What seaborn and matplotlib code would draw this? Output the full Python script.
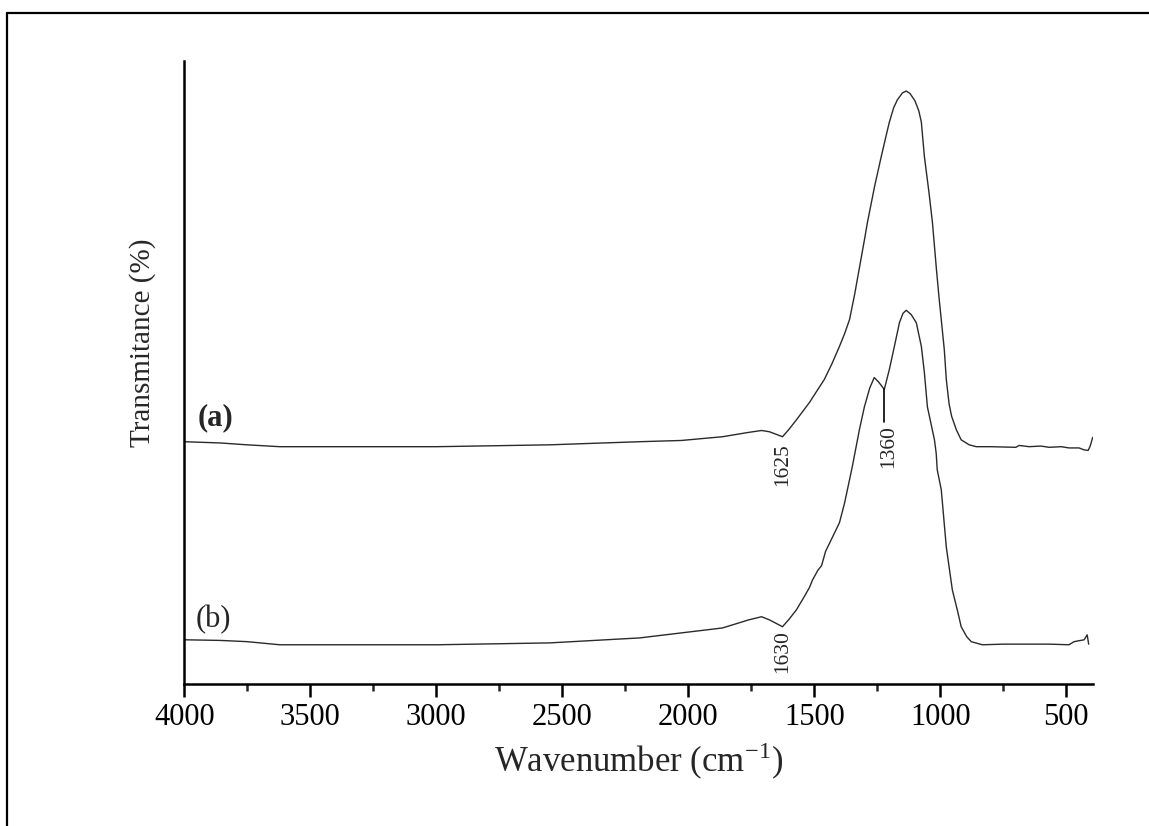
import matplotlib
matplotlib.use("Agg")
import matplotlib.pyplot as plt
from matplotlib.lines import Line2D
from matplotlib.ticker import MultipleLocator
import seaborn as sns
import pandas as pd

# --- DATA ---
wn_a = [4000, 3858, 3751, 3621, 3300, 2998, 2550, 2193, 2027, 1864, 1760, 1709,
        1678, 1626, 1600, 1571, 1519, 1460, 1430, 1400, 1380, 1360, 1340, 1320,
        1300, 1289, 1260, 1234, 1215, 1202, 1185, 1170, 1150, 1135, 1120, 1100,
        1085, 1075, 1063, 1045, 1031, 1015, 1004, 984, 976, 965, 955, 936, 917,
        885, 857, 800, 700, 687, 647, 600, 568, 520, 489, 449, 430, 413, 405, 395]
t_a = [38.9, 38.7, 38.4, 38.1, 38.1, 38.1, 38.4, 38.9, 39.1, 39.7, 40.4, 40.7,
       40.5, 39.7, 40.9, 42.4, 45.2, 48.9, 51.4, 54.2, 56.2, 58.5, 62.5, 67.0,
       71.5, 74.1, 80.0, 84.7, 88.0, 90.2, 92.5, 93.8, 94.9, 95.2, 94.8, 93.6,
       92.0, 90.2, 84.7, 79.0, 74.1, 66.5, 61.7, 53.7, 48.9, 45.0, 43.0, 40.8, 39.2,
       38.4, 38.1, 38.1, 38.0, 38.3, 38.1, 38.2, 38.0, 38.1, 37.9, 37.9, 37.6,
       37.5, 38.2, 39.6]

wn_b = [4000, 3858, 3751, 3621, 3300, 2998, 2550, 2193, 1864, 1760, 1709, 1678,
        1626, 1600, 1571, 1540, 1519, 1507, 1485, 1471, 1455, 1425, 1400, 1380,
        1360, 1349, 1321, 1301, 1280, 1262, 1245, 1222, 1202, 1182, 1162, 1148,
        1135, 1115, 1095, 1075, 1063, 1051, 1023, 1016, 1012, 996, 976, 952, 930,
        917, 895, 877, 833, 750, 687, 568, 489, 469, 429, 417, 411]
t_b = [7.1, 7.0, 6.8, 6.3, 6.3, 6.3, 6.6, 7.4, 9.0, 10.3, 10.8, 10.3,
       9.2, 10.4, 11.9, 14.0, 15.5, 16.7, 18.3, 19.0, 21.3, 23.8, 25.9, 29.0,
       32.8, 34.9, 40.8, 44.5, 47.5, 49.2, 48.5, 47.3, 50.5, 54.2, 58.0, 59.5,
       60.0, 59.3, 58.0, 54.2, 50.0, 44.5, 39.2, 37.0, 34.4, 31.2, 22.0, 15.1,
       11.5, 9.2, 7.6, 6.8, 6.3, 6.4, 6.4, 6.4, 6.3, 6.8, 7.1, 7.9, 6.4]

peak_labels = ["1625", "1630", "1360"]
peak_x = [1626, 1626, 1206]
peak_y = [38.6, 8.7, 41.6]

SERIF = ["Liberation Serif", "DejaVu Serif"]


def make_plot():
    sns.set_style("ticks")
    plt.rcParams["font.family"] = SERIF
    plt.rcParams["mathtext.fontset"] = "stix"

    fig = plt.figure(figsize=(11.49, 8.26), dpi=100)
    ax = fig.add_axes([0.1604, 0.1719, 0.951 - 0.1604, 0.926 - 0.1719])

    df_a = pd.DataFrame({"wn": wn_a, "t": t_a})
    df_b = pd.DataFrame({"wn": wn_b, "t": t_b})
    sns.lineplot(data=df_a, x="wn", y="t", ax=ax, color="#2a2a2a", lw=1.0,
                 estimator=None, sort=False)
    sns.lineplot(data=df_b, x="wn", y="t", ax=ax, color="#2a2a2a", lw=1.0,
                 estimator=None, sort=False)

    ax.set_xlim(4000, 395)
    ax.set_ylim(0, 100)
    ax.xaxis.set_major_locator(MultipleLocator(500))
    ax.xaxis.set_minor_locator(MultipleLocator(250))
    ax.set_yticks([])

    for side in ["top", "right"]:
        ax.spines[side].set_visible(False)
    for side in ["left", "bottom"]:
        ax.spines[side].set_linewidth(1.8)
        ax.spines[side].set_color("black")

    ax.tick_params(axis="x", which="major", direction="out", length=9.5,
                   width=1.8, labelsize=22, pad=4, colors="black")
    ax.tick_params(axis="x", which="minor", direction="out", length=5,
                   width=1.8)

    ax.set_xlabel("Wavenumber (cm$^{\\mathregular{-1}}$)", fontsize=25,
                  labelpad=6)
    ax.set_ylabel("Transmitance (%)", fontsize=21)
    ax.yaxis.set_label_coords(-0.031, 0.548)

    # curve labels
    ax.text(3878, 42.8, "(a)", fontsize=22, fontweight="bold",
            ha="center", va="center")
    ax.text(3886, 10.3, "(b)", fontsize=22, ha="center", va="center")

    # peak annotations
    for lab, px, py in zip(peak_labels, peak_x, peak_y):
        ax.text(px, py, lab, fontsize=15.5, rotation=90, ha="center", va="top")
    ax.plot([1222, 1222], [47.3, 42.0], color="black", lw=1.2)

    # frame of the original figure (top and left edges only)
    fig.add_artist(Line2D([7 / 1149, 1.0], [1 - 13 / 826] * 2,
                          transform=fig.transFigure, color="black", lw=1.6))
    fig.add_artist(Line2D([7 / 1149] * 2, [0.0, 1 - 13 / 826],
                          transform=fig.transFigure, color="black", lw=1.6))

    fig.savefig("out.png", dpi=100)


if __name__ == "__main__":
    make_plot()
